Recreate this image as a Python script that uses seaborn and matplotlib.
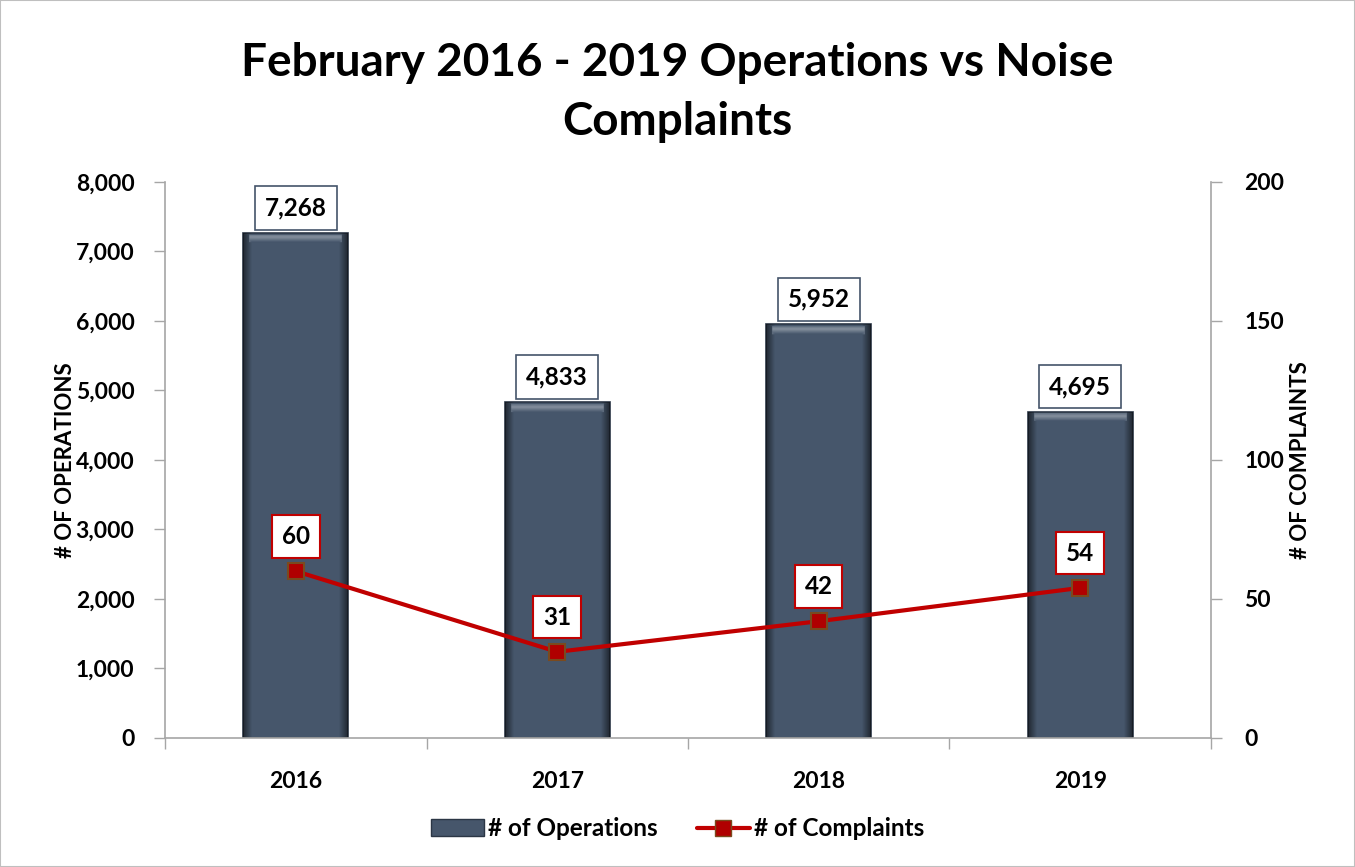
import matplotlib
matplotlib.use("Agg")
import matplotlib.pyplot as plt
import matplotlib.patches as mpatches
from matplotlib.lines import Line2D
import seaborn as sns
import pandas as pd
import numpy as np

years = ["2016", "2017", "2018", "2019"]
operations = [7268, 4833, 5952, 4695]
complaints = [60, 31, 42, 54]
title = "February 2016 - 2019 Operations vs Noise\nComplaints"

sns.set_theme(style="white")
plt.rcParams['font.family'] = ['Lato', 'DejaVu Sans']
plt.rcParams['font.weight'] = 'bold'
plt.rcParams['text.color'] = 'black'
plt.rcParams['axes.labelcolor'] = 'black'
plt.rcParams['xtick.color'] = 'black'
plt.rcParams['ytick.color'] = 'black'

df = pd.DataFrame({"year": years, "ops": operations, "comp": complaints})

BAR = "#46566b"
RED = "#c00000"
AX = "#a6a6a6"

fig = plt.figure(figsize=(13.55, 8.67), dpi=100)
fig.patches.append(mpatches.Rectangle((0, 0), 1, 1, transform=fig.transFigure,
                                      fill=False, edgecolor="#bfbfbf", linewidth=1.5))
ax = fig.add_axes([0.1218, 0.1488, 0.7719, 0.6413])
sns.barplot(data=df, x="year", y="ops", ax=ax, color=BAR, width=0.4,
            edgecolor="#2b3645", linewidth=1.2, saturation=1)
ax.set_ylim(0, 8000)
ax.set_xlim(-0.5, 3.5)

# bevel shading, clipped to each bar drawn by seaborn
ypp = 8000 / 556.0  # data units per pixel (approx)
for p in list(ax.patches):
    x0, w, h = p.get_x(), p.get_width(), p.get_height()
    nx, ny = 120, 400
    fx = (np.arange(nx) + 0.5) / nx
    yy = (np.arange(ny) + 0.5) / ny * h  # from bottom
    dpx = np.minimum(fx, 1 - fx) * 104  # px from side
    dtop = (h - yy) / ypp  # px from top
    X, Dt = np.meshgrid(dpx, dtop)
    rgba = np.zeros((ny, nx, 4))
    side = np.clip(1 - X / 9.0, 0, 1) * 0.55
    top_light = np.where((Dt > 2) & (Dt < 10), np.clip(1 - np.abs(Dt - 5) / 5, 0, 1) * 0.35, 0)
    top_light = top_light * (X > 6)
    rgba[..., :3] = np.where(top_light[..., None] > 0, 1.0, 0.0)
    rgba[..., 3] = np.maximum(side, top_light)
    im = ax.imshow(rgba[::-1], extent=[x0, x0 + w, 0, h], aspect="auto",
                   interpolation="bilinear", zorder=p.get_zorder() + 0.1)
    im.set_clip_path(p)
ax.set_ylim(0, 8000)
ax.set_xlim(-0.5, 3.5)

ax.set_yticks(np.arange(0, 8001, 1000))
ax.set_yticklabels([f"{v:,}" for v in range(0, 8001, 1000)], fontsize=16.5, fontweight="bold")
ax.set_xticks([-0.5, 0.5, 1.5, 2.5, 3.5])
ax.set_xticklabels([])
ax.set_xticks(range(len(years)), minor=True)
ax.set_xticklabels(years, minor=True, fontsize=16.5, fontweight="bold")
ax.tick_params(axis="x", which="major", length=8, color=AX, width=1, direction="out", bottom=True)
ax.tick_params(axis="x", which="minor", length=0, pad=24)
ax.tick_params(axis="y", length=8, color=AX, width=1, direction="out", left=True, pad=14)
ax.set_xlabel("")
ax.set_ylabel("# OF OPERATIONS", fontsize=16, fontweight="bold", labelpad=0)
for s in ["top", "right"]:
    ax.spines[s].set_visible(False)
for s in ["left", "bottom"]:
    ax.spines[s].set_color(AX)
    ax.spines[s].set_linewidth(1.2)

for i, v in enumerate(operations):
    ax.annotate(f"{v:,}", (i, v), xytext=(0, 18), textcoords="offset points",
                ha="center", va="center", fontsize=17.5, fontweight="bold", color="black",
                bbox=dict(boxstyle="square,pad=0.42", fc="white", ec="#44546a", lw=1.2),
                zorder=5)

ax2 = ax.twinx()
sns.pointplot(data=df, x="year", y="comp", ax=ax2, color=RED, markers="s",
              linestyles="-", linewidth=3, markersize=0)
ax2.lines[0].set_marker("s")
ax2.lines[0].set_markersize(11)
ax2.lines[0].set_markerfacecolor("#b00000")
ax2.lines[0].set_markeredgecolor("#7a4a1e")
ax2.lines[0].set_markeredgewidth(1.5)
ax2.set_ylim(0, 200)
ax2.set_xlim(-0.5, 3.5)
ax2.set_yticks(np.arange(0, 201, 50))
ax2.set_yticklabels([str(v) for v in range(0, 201, 50)], fontsize=16.5, fontweight="bold")
ax2.tick_params(axis="y", length=8, color=AX, width=1, direction="out", right=True, pad=16)
ax2.set_ylabel("# OF COMPLAINTS", fontsize=16, fontweight="bold", labelpad=4)
ax2.set_xlabel("")
for s in ["top", "left", "bottom"]:
    ax2.spines[s].set_visible(False)
ax2.spines["right"].set_color(AX)
ax2.spines["right"].set_linewidth(1.2)

for i, v in enumerate(complaints):
    ax2.annotate(f"{v}", (i, v), xytext=(0, 25), textcoords="offset points",
                 ha="center", va="center", fontsize=17.5, fontweight="bold", color="black",
                 bbox=dict(boxstyle="square,pad=0.4", fc="white", ec=RED, lw=1.5))

handles = [mpatches.Patch(facecolor=BAR, edgecolor="#2b3645", label="# of Operations"),
           Line2D([0], [0], color=RED, lw=3, marker="s", markersize=11,
                  markerfacecolor="#b00000", markeredgecolor="#7a4a1e", label="# of Complaints")]
fig.legend(handles=handles, loc="center", bbox_to_anchor=(0.5, 0.044), ncol=2, frameon=False,
           prop=dict(size=17.5, weight="bold"), handlelength=2.2, columnspacing=1.6,
           handletextpad=0.15)

fig.suptitle(title, fontsize=33, fontweight="bold", y=0.952, va="top", linespacing=1.5)

fig.savefig("out.png", dpi=100)
